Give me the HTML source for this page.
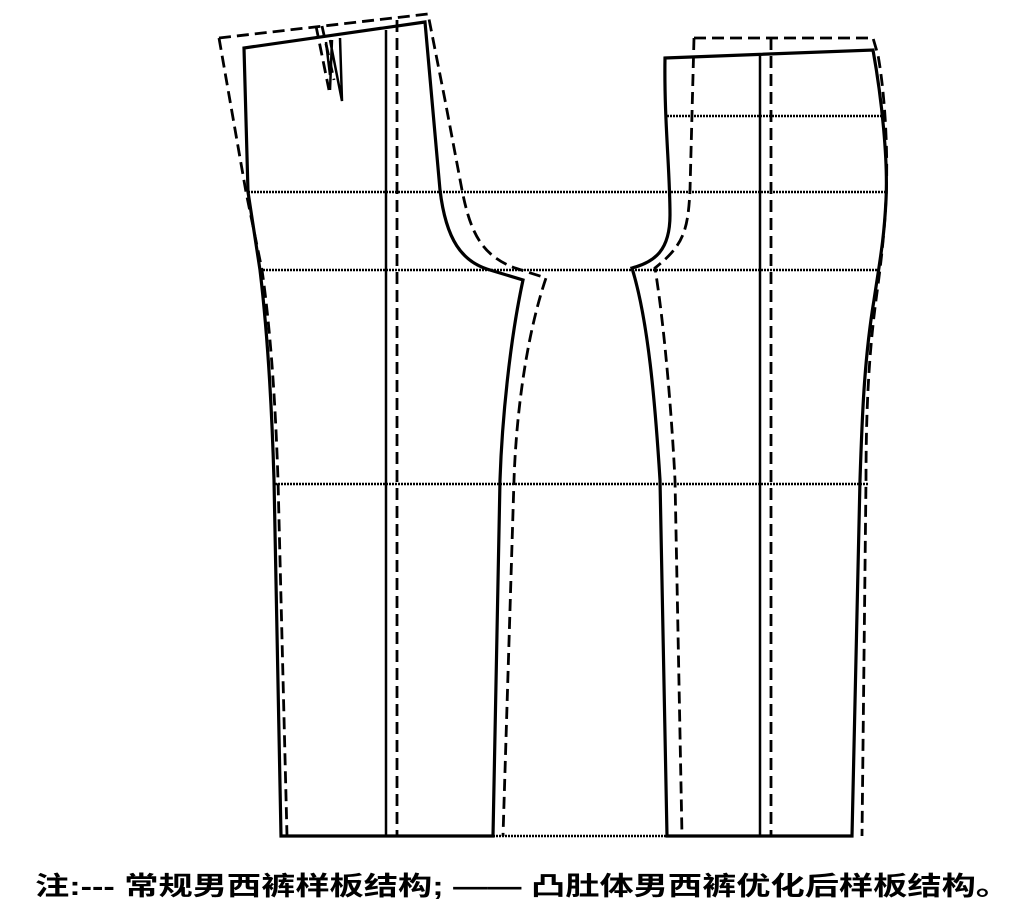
<!DOCTYPE html>
<html><head><meta charset="utf-8"><style>
html,body{margin:0;padding:0;background:#fff;}
svg{display:block;}
</style></head><body>
<svg width="1019" height="922" viewBox="0 0 1019 922" xmlns="http://www.w3.org/2000/svg">
<g fill="none" stroke="#000">
<!-- dotted horizontals -->
<g stroke-width="2.5" stroke-dasharray="2,1">
<line x1="667" y1="116" x2="884" y2="116"/>
<line x1="248" y1="192" x2="886" y2="192"/>
<line x1="260" y1="270" x2="881" y2="270"/>
<line x1="275" y1="484" x2="868" y2="484"/>
<line x1="493" y1="836" x2="667" y2="836"/>
</g>
<!-- solid pieces -->
<g stroke-width="3.2" stroke-linejoin="miter">
<path d="M281,836 L274,480 C271,380 266,320 260,270 L248,192 L244,48 L425,22 L440,190 C446,240 462,262 490,270 L523,280 C510,340 502,420 500,480 L493,836 Z"/>
<path d="M665,58 L873,50 C882,100 888,160 886,200 C884,240 880,260 874,300 C864,360 862,420 860,480 L852,836 L667,836 L660,480 C655,400 648,320 632,268 C655,262 670,250 670,215 C670,170 664,120 665,58 Z"/>
</g>
<g stroke-width="2.5">
<line x1="386" y1="30" x2="386" y2="836"/>
<line x1="760" y1="54" x2="760" y2="836"/>
<path d="M330,40 L342,101 L340,38 M332,40 L330,90 M326,42 L330,75"/>
</g>
<!-- dashed regular -->
<g stroke-width="2.8" stroke-dasharray="12,6">
<path d="M219,38 L428,14 L445,100 L462,190 C470,230 480,255 515,268 L546,278 C525,340 516,420 514,480 L503,836"/>
<path d="M219,38 L246,192 L262,270 C272,340 276,420 278,480 L287,836"/>
<path d="M316,26 L329,90 M322,26 L334,80"/>
<line x1="397" y1="20" x2="397" y2="836"/>
<path d="M694,38 L873,38 L878,55 C886,100 888,160 886,200 C884,240 880,270 876,300 C868,360 866,420 866,480 L862,836"/>
<path d="M694,38 L690,190 C688,230 684,245 655,268 C665,330 672,420 675,480 L682,836"/>
<line x1="771" y1="38" x2="771" y2="836"/>
</g>
</g>
<text x="35" y="895" font-family="'Liberation Sans','Noto Sans CJK SC',sans-serif" font-size="26" font-weight="bold" textLength="975" lengthAdjust="spacingAndGlyphs" fill="#000">注:--- 常规男西裤样板结构; —— 凸肚体男西裤优化后样板结构。</text>
</svg>
</body></html>
